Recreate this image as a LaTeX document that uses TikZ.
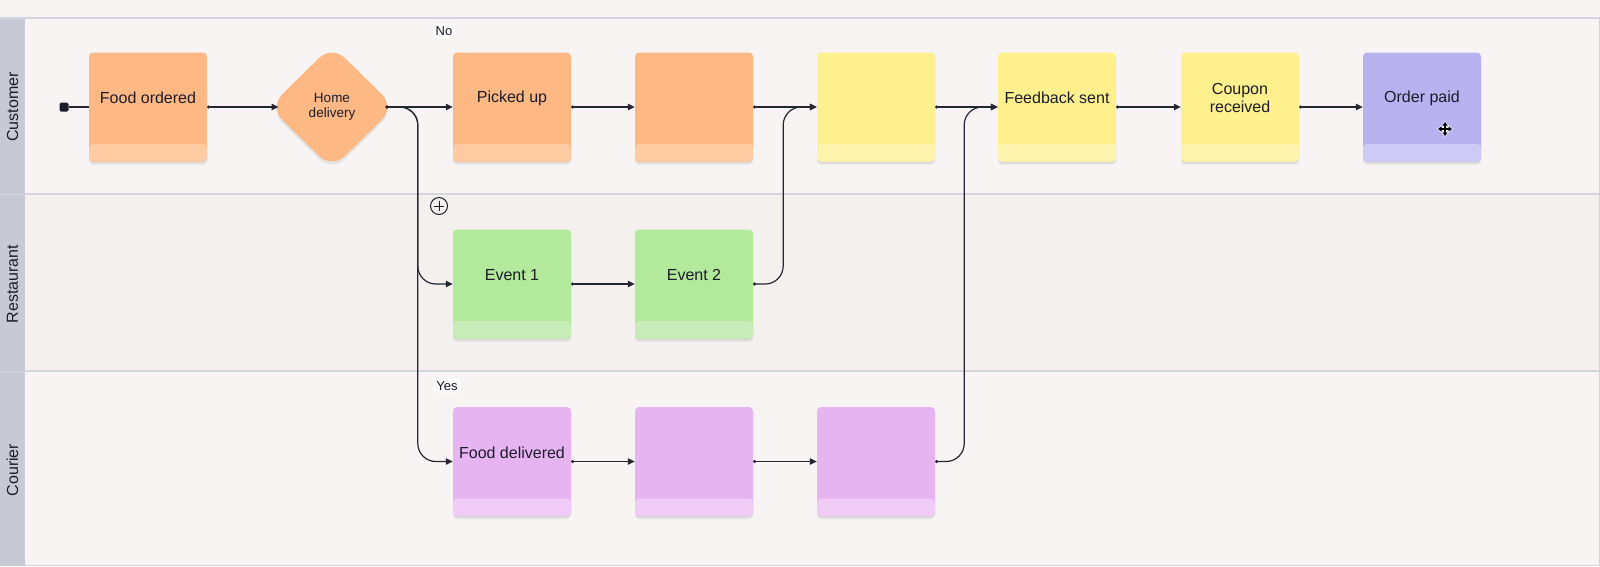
\documentclass[tikz,border=0pt]{standalone}
\usepackage{fontspec}
\setmainfont{Liberation Sans}
\usetikzlibrary{arrows.meta,shapes.geometric,shadows,calc}
\definecolor{bg}{HTML}{F7F4F3}
\definecolor{restbg}{HTML}{F3F0EE}
\definecolor{topband}{HTML}{F7F4F4}
\definecolor{lanecol}{HTML}{C7CAD5}
\definecolor{divider}{HTML}{D3D4DE}
\definecolor{txt}{HTML}{1C1C2A}
\definecolor{lineclr}{HTML}{262633}
\definecolor{org}{HTML}{FDB883}
\definecolor{orgstrip}{HTML}{FECBA3}
\definecolor{yel}{HTML}{FEF08C}
\definecolor{yelstrip}{HTML}{FEF4AD}
\definecolor{pur}{HTML}{B8B3F0}
\definecolor{purstrip}{HTML}{CDCAF5}
\definecolor{grn}{HTML}{B3E99B}
\definecolor{grnstrip}{HTML}{C9EDB8}
\definecolor{pnk}{HTML}{E6B5F1}
\definecolor{pnkstrip}{HTML}{EFCBF5}
\definecolor{tagbg}{HTML}{FBF9F9}
\begin{document}
\begin{tikzpicture}[x=1pt,y=-1pt,
  card/.style={rectangle, rounded corners=4pt, minimum width=118pt, minimum height=109pt,
    inner sep=0pt, fill=#1,
    drop shadow={shadow xshift=0pt,shadow yshift=-3pt,opacity=0.10,fill=black!70},
    drop shadow={shadow xshift=0pt,shadow yshift=-1.5pt,opacity=0.06,fill=black!70},
    path picture={\fill[#1strip] (path picture bounding box.south west) rectangle ([yshift=17.5pt]path picture bounding box.south east);}},
  ctext/.style={label={[font=\fontsize{16}{18}\selectfont, text=txt, align=center, yshift=9pt]center:#1}},
  conn/.style={draw=lineclr, line width=1.2pt, rounded corners=18pt},
  arr/.style={{Circle[length=3pt]}-{Triangle[length=7pt,width=6.5pt]}},
  lanelbl/.style={rotate=90, font=\fontsize{16}{18}\selectfont, text=txt, inner sep=0pt},
  tag/.style={fill=tagbg, rounded corners=3pt, font=\fontsize{13}{15}\selectfont, text=txt, inner sep=3pt}
]
\useasboundingbox (0,0) rectangle (1600,566);
% lanes
\fill[bg] (0,0) rectangle (1600,566);
\fill[topband] (0,0) rectangle (1600,18);
\fill[restbg] (25,194) rectangle (1600,371);
\fill[lanecol] (0,18) rectangle (25,566);
\draw[divider, line width=1.5pt] (0,18) -- (1600,18);
\draw[divider, line width=1.5pt] (25,194) -- (1600,194);
\draw[divider, line width=1.5pt] (25,371) -- (1600,371);
\draw[divider, line width=1pt] (1599.5,18) -- (1599.5,565.5) -- (25,565.5);
\draw[lanecol!80!white, line width=1pt] (0,194) -- (25,194) (0,371) -- (25,371);
\node[lanelbl] (l1) at (12.5,107) {Customer};
\node[lanelbl] (l2) at (12.5,284) {Restaurant};
\node[lanelbl] (l3) at (12.5,470) {Courier};

% customer row
\node[fill=txt, rounded corners=1.5pt, minimum size=9pt, inner sep=0pt] (st) at (64,107) {};
\node[card=org, ctext={Food ordered}] (fo) at (148,107) {};
\node[diamond, rounded corners=18pt, fill=org, minimum width=120pt, minimum height=118pt,
  inner sep=0pt, outer sep=-6.5pt, align=center, text=txt, font=\fontsize{13.5}{15}\selectfont,
  drop shadow={shadow xshift=0pt,shadow yshift=-3pt,opacity=0.10,fill=black!70}] (hd) at (332,107) {Home\\delivery};
\node[card=org, ctext={Picked up}] (pu) at (512,107) {};
\node[card=org] (o2) at (694,107) {};
\node[card=yel] (y1) at (876,107) {};
\node[card=yel, ctext={Feedback sent}] (fs) at (1057,107) {};
\node[card=yel, ctext={Coupon\\received}] (cr) at (1240,107) {};
\node[card=pur, ctext={Order paid}] (op) at (1422,107) {};

% restaurant row
\node[card=grn, ctext={Event 1}] (e1) at (512,284) {};
\node[card=grn, ctext={Event 2}] (e2) at (694,284) {};

% courier row
\node[card=pnk, ctext={Food delivered}] (fd) at (512,461.5) {};
\node[card=pnk] (p2) at (694,461.5) {};
\node[card=pnk] (p3) at (876,461.5) {};

% labels
\node[tag] (no) at (444,31) {No};
\node[tag] (yes) at (447,386) {Yes};
\node[circle, draw=txt, line width=1pt, minimum size=17pt, inner sep=0pt,
  path picture={\draw[txt, line width=1pt] ($(path picture bounding box.center)+(-5,0)$) -- ($(path picture bounding box.center)+(5,0)$) ($(path picture bounding box.center)+(0,-5)$) -- ($(path picture bounding box.center)+(0,5)$);}] (plus) at (439,206) {};

% connectors
\draw[conn] (st) -- (fo.west);
\draw[conn, arr] (fo.east) -- (hd.west);
\draw[conn, arr] (hd.east) -- (pu.west);
\draw[conn, arr] (hd.east) -| ($(e1.west)+(-35,0)$) -- (e1.west);
\draw[conn, arr] (hd.east) -| ($(fd.west)+(-35,0)$) -- (fd.west);
\draw[conn, arr] (pu.east) -- (o2.west);
\draw[conn, arr] (o2.east) -- (y1.west);
\draw[conn, arr] (y1.east) -- (fs.west);
\draw[conn, arr] (fs.east) -- (cr.west);
\draw[conn, arr] (cr.east) -- (op.west);
\draw[conn, arr] (e1.east) -- (e2.west);
\draw[conn, arr] (e2.east) -- ($(e2.east)+(30,0)$) |- (y1.west);
\draw[conn, arr] (fd.east) -- (p2.west);
\draw[conn, arr] (p2.east) -- (p3.west);
\draw[conn, arr] (p3.east) -- ($(p3.east)+(29,0)$) |- (fs.west);

% move cursor
\coordinate (cur) at (1445,129);
\draw[white, line width=3.4pt, {Triangle[length=5pt,width=7pt]}-{Triangle[length=5pt,width=7pt]}] ($(cur)+(-8,0)$) -- ($(cur)+(8,0)$);
\draw[white, line width=3.4pt, {Triangle[length=5pt,width=7pt]}-{Triangle[length=5pt,width=7pt]}] ($(cur)+(0,-8)$) -- ($(cur)+(0,8)$);
\draw[black, line width=1.3pt, {Triangle[length=3.5pt,width=5pt]}-{Triangle[length=3.5pt,width=5pt]}] ($(cur)+(-7,0)$) -- ($(cur)+(7,0)$);
\draw[black, line width=1.3pt, {Triangle[length=3.5pt,width=5pt]}-{Triangle[length=3.5pt,width=5pt]}] ($(cur)+(0,-7)$) -- ($(cur)+(0,7)$);
\end{tikzpicture}
\end{document}
